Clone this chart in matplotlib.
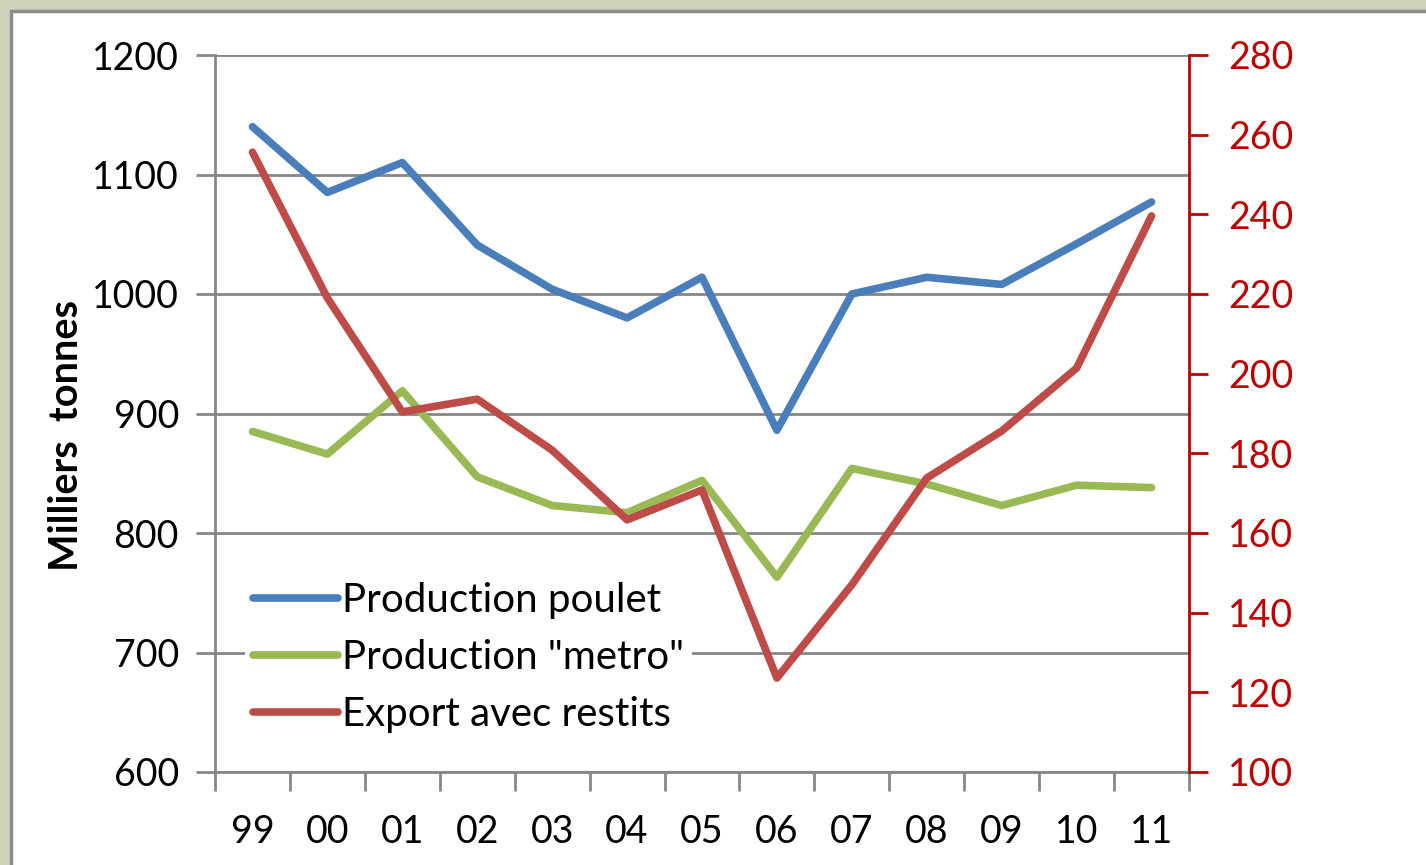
import numpy as np
import matplotlib.pyplot as plt
from matplotlib.patches import Rectangle

years = ['99', '00', '01', '02', '03', '04', '05', '06', '07', '08', '09', '10', '11']
poulet = [1140, 1085, 1110, 1041, 1004, 980, 1014, 886, 1000, 1014, 1008, 1042, 1077]
metro = [885, 866, 919, 847, 823, 817, 844, 763, 854, 841, 823, 840, 838]
export = [255.6, 219, 190.4, 193.6, 180.8, 163.3, 170.8, 123.6, 147, 173.8, 185.6, 201.4, 239.6]

plt.rcParams['font.family'] = ['Lato', 'DejaVu Sans']

fig = plt.figure(figsize=(14.26, 8.65), dpi=100)
fig.patch.set_facecolor('#CED3BC')
# white chart area with grey frame
W, H = 1426, 865
fig.patches.append(Rectangle((11 / W, -0.01), 1.0, (H - 11) / H + 0.01, transform=fig.transFigure,
                             facecolor='white', edgecolor='#8C8C8C', linewidth=2.5, zorder=-5))

ax = fig.add_axes([215 / W, (H - 772) / H, (1189 - 215) / W, (772 - 55) / H])
ax2 = ax.twinx()
ax.patch.set_visible(False)
ax2.patch.set_visible(False)

x = np.arange(len(years))
grey = '#868686'
red_axis = '#C00000'

ax.set_xlim(-0.5, len(years) - 0.5)
ax.set_ylim(600, 1200)
ax.set_yticks(np.arange(600, 1201, 100))
ax.yaxis.grid(True, color=grey, linewidth=2)
ax.set_axisbelow(True)

l1, = ax.plot(x, poulet, color='#4A7EBB', lw=5.5, solid_capstyle='round', label='Production poulet', zorder=3)
l2, = ax.plot(x, metro, color='#98B954', lw=5.5, solid_capstyle='round', label='Production "metro"', zorder=3)
l3, = ax2.plot(x, export, color='#BE4B48', lw=5.5, solid_capstyle='round', label='Export avec restits', zorder=3)

ax2.set_ylim(100, 280)
ax2.set_yticks(np.arange(100, 281, 20))

# x ticks at category boundaries, labels at centres
ax.set_xticks(np.arange(-0.5, len(years), 1.0))
ax.set_xticklabels([])
ax.set_xticks(x, minor=True)
ax.set_xticklabels(years, minor=True)
ax.tick_params(axis='x', which='major', length=14, width=2, color=grey, direction='out')
ax.tick_params(axis='x', which='minor', length=0, labelsize=27, pad=30)
ax.tick_params(axis='y', length=14, width=2, color=grey, labelsize=27, pad=12)
ax2.tick_params(axis='y', length=14, width=2, color=red_axis, labelcolor=red_axis, labelsize=27, pad=14)

for s in ['top', 'right']:
    ax.spines[s].set_visible(False)
ax.spines['left'].set_color(grey)
ax.spines['left'].set_linewidth(2)
ax.spines['bottom'].set_color(grey)
ax.spines['bottom'].set_linewidth(2)
ax2.spines['top'].set_visible(False)
ax2.spines['left'].set_visible(False)
ax2.spines['bottom'].set_visible(False)
ax2.spines['right'].set_color(red_axis)
ax2.spines['right'].set_linewidth(2)

ax.set_ylabel('Milliers  tonnes', fontsize=28.5, fontweight='bold', va='center')
ax.yaxis.set_label_coords(-0.152, 0.469)

leg = ax2.legend(handles=[l1, l2, l3], loc='lower left', bbox_to_anchor=(0.01, 0.015),
                 fontsize=29, frameon=True, facecolor='white', edgecolor='none', framealpha=1,
                 handlelength=2.1, handletextpad=0.1, labelspacing=0.5, borderpad=0.2)

fig.savefig('out.png', dpi=100, facecolor=fig.get_facecolor())
